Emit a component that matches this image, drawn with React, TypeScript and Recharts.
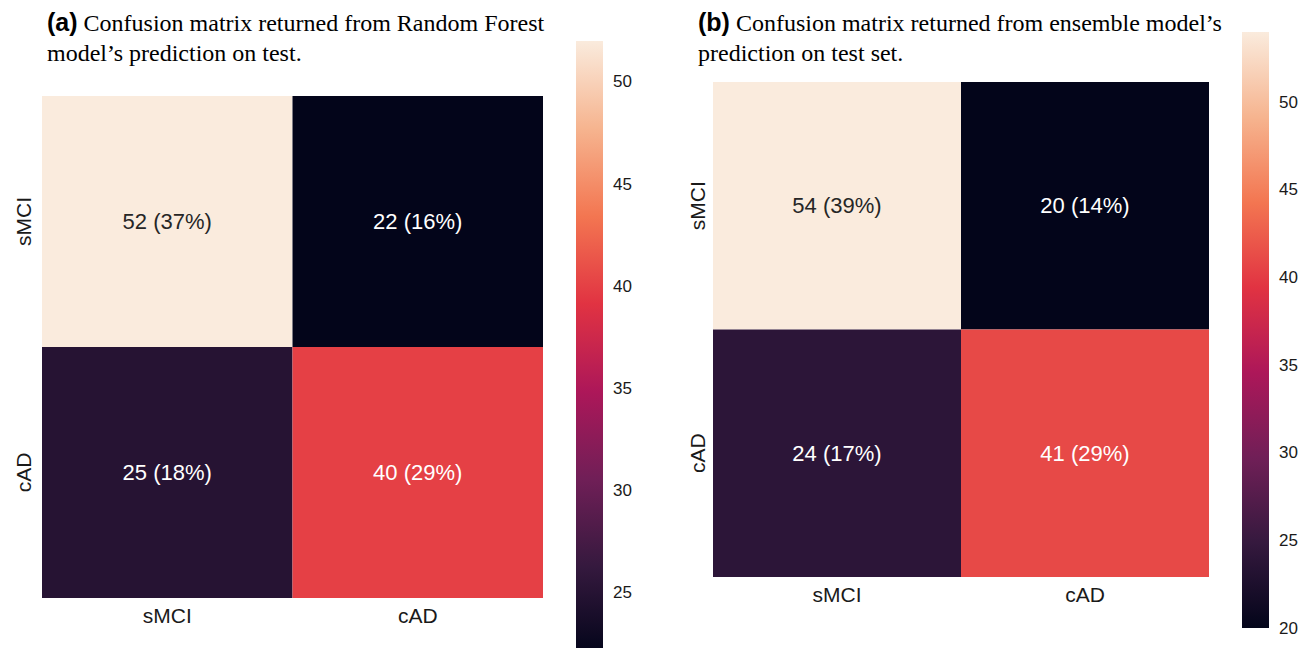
import React from 'react';
import { BarChart, Bar, ScatterChart, Scatter, XAxis, YAxis, ReferenceArea } from 'recharts';

// ---------- data ----------
const classLabels = ['sMCI', 'cAD'];
const matrixA = [
  [52, 22],
  [25, 40],
];
const matrixB = [
  [54, 20],
  [24, 41],
];
const rangeA: [number, number] = [22, 52];
const rangeB: [number, number] = [20, 54];
const colorbarTicksA = [25, 30, 35, 40, 45, 50];
const colorbarTicksB = [20, 25, 30, 35, 40, 45, 50];
const titleA = ['Confusion matrix returned from Random Forest', 'model\u2019s prediction on test.'];
const titleB = ['Confusion matrix returned from ensemble model\u2019s', 'prediction on test set.'];

// seaborn "rocket" colormap samples
const rocketStops: [number, string][] = [
  [0, '#03051a'],
  [1 / 7, '#35193e'],
  [2 / 7, '#701f57'],
  [3 / 7, '#ad1759'],
  [4 / 7, '#e13342'],
  [5 / 7, '#f37651'],
  [6 / 7, '#f6b48f'],
  [1, '#faebdd'],
];

const SANS = '"Liberation Sans", Arial, Helvetica, sans-serif';
const SERIF = '"Liberation Serif", "Times New Roman", serif';

function hexToRgb(h: string): number[] {
  return [1, 3, 5].map((i) => parseInt(h.slice(i, i + 2), 16));
}

function rocket(t: number): number[] {
  const tt = Math.max(0, Math.min(1, t));
  for (let i = 0; i < rocketStops.length - 1; i++) {
    const [t0, c0] = rocketStops[i];
    const [t1, c1] = rocketStops[i + 1];
    if (tt <= t1) {
      const f = (tt - t0) / (t1 - t0);
      const a = hexToRgb(c0);
      const b = hexToRgb(c1);
      return a.map((v, k) => Math.round(v + (b[k] - v) * f));
    }
  }
  return hexToRgb(rocketStops[rocketStops.length - 1][1]);
}

function rgbStr(c: number[]) {
  return `rgb(${c[0]},${c[1]},${c[2]})`;
}

function luminance(c: number[]) {
  const lin = c.map((v) => {
    const s = v / 255;
    return s <= 0.03928 ? s / 12.92 : Math.pow((s + 0.055) / 1.055, 2.4);
  });
  return 0.2126 * lin[0] + 0.7152 * lin[1] + 0.0722 * lin[2];
}

// ---------- heatmap ----------
type HeatProps = {
  matrix: number[][];
  range: [number, number];
  plotLeft: number;
  plotTop: number;
  plotW: number;
  plotH: number;
  yLabelOffset: number;
};

function Heatmap({ matrix, range, plotLeft, plotTop, plotW, plotH, yLabelOffset }: HeatProps) {
  const total = matrix.flat().reduce((s, v) => s + v, 0);
  const cells = matrix.flatMap((row, i) =>
    row.map((v, j) => {
      const c = rocket((v - range[0]) / (range[1] - range[0]));
      return {
        x: j + 0.5,
        y: i + 0.5,
        row: i,
        col: j,
        value: v,
        pct: Math.round((100 * v) / total),
        fill: rgbStr(c),
        text: luminance(c) > 0.408 ? '#262626' : '#ffffff',
      };
    })
  );
  const yAxisW = 42;
  const xAxisH = 50;
  const width = yAxisW + plotW + 4;
  const height = plotTop + plotH + xAxisH;

  const XTick = (p: any) => (
    <text
      x={p.x}
      y={p.y + 17}
      textAnchor="middle"
      dominantBaseline="central"
      fontSize={21}
      fontFamily={SANS}
      fill="#1a1a1a"
    >
      {classLabels[Math.floor(p.payload.value)]}
    </text>
  );
  const YTick = (p: any) => (
    <text
      x={p.x - yLabelOffset}
      y={p.y}
      transform={`rotate(-90, ${p.x - yLabelOffset}, ${p.y})`}
      textAnchor="middle"
      dominantBaseline="central"
      fontSize={21}
      fontFamily={SANS}
      fill="#1a1a1a"
    >
      {classLabels[Math.floor(p.payload.value)]}
    </text>
  );

  return (
    <div style={{ position: 'absolute', left: plotLeft - yAxisW, top: 0 }}>
      <ScatterChart width={width} height={height} margin={{ top: plotTop, right: 4, bottom: 0, left: 0 }}>
        <XAxis
          type="number"
          dataKey="x"
          domain={[0, 2]}
          ticks={[0.5, 1.5]}
          interval={0}
          height={xAxisH}
          axisLine={false}
          tickLine={false}
          tickSize={0}
          tickMargin={0}
          tick={<XTick />}
        />
        <YAxis
          type="number"
          dataKey="y"
          domain={[0, 2]}
          reversed
          ticks={[0.5, 1.5]}
          interval={0}
          width={yAxisW}
          axisLine={false}
          tickLine={false}
          tickSize={0}
          tickMargin={0}
          tick={<YTick />}
        />
        {cells.map((c) => (
          <ReferenceArea
            key={`cell-${c.row}-${c.col}`}
            x1={c.col}
            x2={c.col + 1}
            y1={c.row}
            y2={c.row + 1}
            fill={c.fill}
            fillOpacity={1}
            stroke="none"
            ifOverflow="visible"
          />
        ))}
        <Scatter
          data={cells}
          isAnimationActive={false}
          shape={(p: any) => (
            <text
              x={p.cx}
              y={p.cy}
              textAnchor="middle"
              dominantBaseline="central"
              fontSize={22}
              fontFamily={SANS}
              fill={p.payload.text}
            >
              {`${p.payload.value} (${p.payload.pct}%)`}
            </text>
          )}
        />
      </ScatterChart>
    </div>
  );
}

// ---------- colorbar ----------
type CbProps = {
  id: string;
  range: [number, number];
  ticks: number[];
  left: number;
  top: number;
  barW: number;
  barH: number;
};

function Colorbar({ id, range, ticks, left, top, barW, barH }: CbProps) {
  const axisW = 50;
  const bottomPad = 14;
  const data = [{ name: 'colorbar', span: [range[0], range[1]] }];
  // gradient runs top (offset 0 = max value) to bottom (offset 1 = min value)
  const stops = [...rocketStops].reverse();
  const CbTick = (p: any) => (
    <text
      x={p.x + 9}
      y={p.y}
      textAnchor="start"
      dominantBaseline="central"
      fontSize={17}
      fontFamily={SANS}
      fill="#1a1a1a"
    >
      {p.payload.value}
    </text>
  );
  return (
    <div style={{ position: 'absolute', left, top: 0 }}>
      <BarChart
        width={barW + axisW}
        height={top + barH + bottomPad}
        data={data}
        margin={{ top, right: 0, bottom: bottomPad, left: 0 }}
        barCategoryGap={0}
      >
        <defs>
          <linearGradient id={id} x1="0" y1="0" x2="0" y2="1">
            {stops.map(([t, c]) => (
              <stop key={t} offset={`${(1 - t) * 100}%`} stopColor={c} />
            ))}
          </linearGradient>
        </defs>
        <XAxis type="category" dataKey="name" hide height={0} />
        <YAxis
          orientation="right"
          type="number"
          domain={range}
          ticks={ticks}
          interval={0}
          width={axisW}
          axisLine={false}
          tickLine={false}
          tickSize={0}
          tickMargin={0}
          tick={<CbTick />}
          allowDataOverflow
        />
        <Bar dataKey="span" fill={`url(#${id})`} barSize={barW} isAnimationActive={false} />
      </BarChart>
    </div>
  );
}

// ---------- title ----------
function Title({ tag, lines, left }: { tag: string; lines: string[]; left: number }) {
  return (
    <div
      style={{
        position: 'absolute',
        left,
        top: 7,
        fontFamily: SERIF,
        fontSize: 24,
        lineHeight: '30px',
        color: '#000',
        whiteSpace: 'nowrap',
      }}
    >
      <div>
        <span style={{ fontFamily: SANS, fontWeight: 'bold', fontSize: 25 }}>{tag}</span> {lines[0]}
      </div>
      <div>{lines[1]}</div>
    </div>
  );
}

export default function App() {
  return (
    <div
      style={{
        position: 'absolute',
        left: 0,
        top: 0,
        width: 1300,
        height: 648,
        overflow: 'hidden',
        background: '#ffffff',
      }}
    >
      <Title tag="(a)" lines={titleA} left={47} />
      <Title tag="(b)" lines={titleB} left={698} />
      <Heatmap matrix={matrixA} range={rangeA} plotLeft={42} plotTop={96} plotW={501} plotH={502} yLabelOffset={19} />
      <Heatmap matrix={matrixB} range={rangeB} plotLeft={713} plotTop={82} plotW={496} plotH={495} yLabelOffset={16} />
      <Colorbar id="cbA" range={rangeA} ticks={colorbarTicksA} left={574} top={41} barW={30} barH={613} />
      <Colorbar id="cbB" range={rangeB} ticks={colorbarTicksB} left={1240} top={32} barW={30} barH={596} />
    </div>
  );
}
